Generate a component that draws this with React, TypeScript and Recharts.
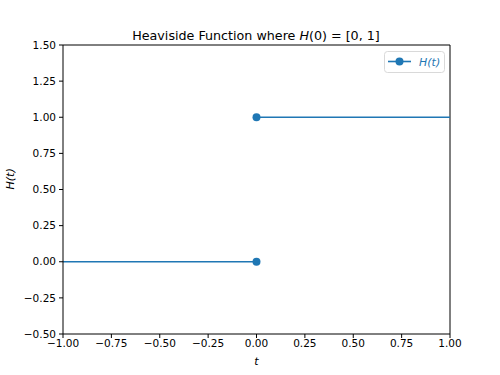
import React from 'react';
import { ComposedChart, Line, Scatter, XAxis, YAxis, ReferenceLine, Customized } from 'recharts';

// step pieces of H(t)
const leftT = [-1, 0];
const leftH = [0, 0];
const rightT = [0, 1];
const rightH = [1, 1];
// closed markers at the jump, H(0) = [0, 1]
const jumpT = [0, 0];
const jumpH = [0, 1];

const xTicks = [-1, -0.75, -0.5, -0.25, 0, 0.25, 0.5, 0.75, 1];
const yTicks = [-0.5, -0.25, 0, 0.25, 0.5, 0.75, 1, 1.25, 1.5];

const BLUE = '#1f77b4';
const FONT = '"DejaVu Sans", sans-serif';

const leftData = leftT.map((t, i) => ({ t, h: leftH[i] }));
const rightData = rightT.map((t, i) => ({ t, h: rightH[i] }));
const jumpData = jumpT.map((t, i) => ({ t, h: jumpH[i] }));

const fmt = (v: number) => v.toFixed(2).replace('-', '\u2212');

const Title = () => (
  <text x={256} y={40} textAnchor="middle" fontSize={12.7} fontFamily={FONT} fill="#000">
    Heaviside Function where <tspan fontStyle="italic">H</tspan>(0) = [0, 1]
  </text>
);

// legend box in the upper right corner, drawn in svg so it takes no layout space
const LegendBox = () => (
  <g>
    <rect x={384.5} y={51.5} width={60} height={21} rx={3} fill="#fff" fillOpacity={0.8} stroke="#d9d9d9" />
    <line x1={388} y1={61.5} x2={411} y2={61.5} stroke={BLUE} strokeWidth={1.6} />
    <circle cx={399.5} cy={61.5} r={4} fill={BLUE} />
    <text x={419} y={65.5} fontSize={11} fontStyle="italic" fill={BLUE} fontFamily={FONT}>
      H(t)
    </text>
  </g>
);

const Dot = (props: any) => <circle cx={props.cx} cy={props.cy} r={4} fill={BLUE} />;

export default function App() {
  return (
    <div style={{ position: 'absolute', left: 0, top: 0, background: '#fff' }}>
      <ComposedChart width={500} height={375} margin={{ top: 45, right: 50, left: 0, bottom: 0 }}>
        <XAxis
          type="number"
          dataKey="t"
          domain={[-1, 1]}
          ticks={xTicks}
          allowDataOverflow
          tickFormatter={fmt}
          height={41}
          stroke="#000"
          tickSize={4}
          tickMargin={2}
          tick={{ fill: '#000', fontSize: 10.5, fontFamily: FONT }}
          label={{ value: 't', position: 'insideBottom', offset: 10, fontStyle: 'italic', fill: '#000', fontSize: 11, fontFamily: FONT }}
        />
        <YAxis
          type="number"
          dataKey="h"
          domain={[-0.5, 1.5]}
          ticks={yTicks}
          allowDataOverflow
          tickFormatter={fmt}
          width={63}
          stroke="#000"
          tickSize={4}
          tickMargin={3}
          tick={{ fill: '#000', fontSize: 10.5, fontFamily: FONT }}
          label={{ value: 'H(t)', angle: -90, position: 'insideLeft', offset: 10, fontStyle: 'italic', fill: '#000', fontSize: 11, fontFamily: FONT }}
        />
        <ReferenceLine y={1.5} stroke="#000" strokeWidth={1} />
        <ReferenceLine x={1} stroke="#000" strokeWidth={1} />
        <Line data={leftData} dataKey="h" stroke={BLUE} strokeWidth={1.6} dot={false} isAnimationActive={false} />
        <Line data={rightData} dataKey="h" stroke={BLUE} strokeWidth={1.6} dot={false} isAnimationActive={false} />
        <Scatter data={jumpData} dataKey="h" fill={BLUE} shape={Dot} isAnimationActive={false} />
        <Customized component={LegendBox} />
        <Customized component={Title} />
      </ComposedChart>
    </div>
  );
}
